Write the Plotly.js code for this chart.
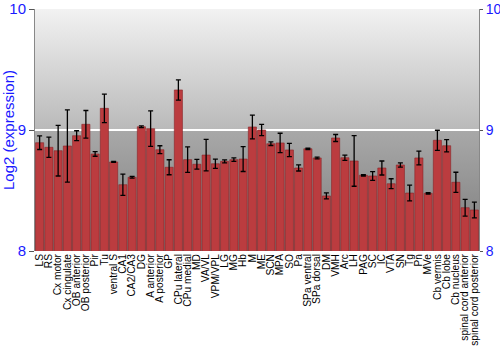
<!DOCTYPE html>
<html>
<head>
<meta charset="utf-8">
<script src="https://cdn.plot.ly/plotly-3.0.1.min.js"></script>
<style>html,body{margin:0;padding:0;background:#fff;}#chart{width:500px;height:350px;}</style>
</head>
<body>
<div id="chart"></div>
<script>
const regions = ["LS","RS","Cx motor","Cx cingulate","OB anterior","OB posterior","Pir","Tu","ventral S","CA1","CA2/CA3","DG","A anterior","A posterior","GP","CPu lateral","CPu medial","MD","VA/VL","VPM/VPL","LG","MG","Hb","M","ME","SCN","MPA","SO","Pa","SPa ventral","SPa dorsal","DM","VMH","Arc","LH","PAG","SC","IC","VTA","SN","Tg","Pn","MVe","Cb vermis","Cb lobe","Cb nucleus","spinal cord anterior","spinal cord posterior"];
const expression = [8.895,8.857,8.829,8.868,8.953,9.047,8.802,9.179,8.736,8.548,8.609,9.027,9.011,8.837,8.692,9.331,8.755,8.717,8.793,8.721,8.741,8.755,8.760,9.025,9.000,8.887,8.893,8.835,8.686,8.845,8.769,8.455,8.934,8.771,8.744,8.626,8.620,8.686,8.556,8.711,8.479,8.769,8.477,8.915,8.870,8.568,8.358,8.339];
const errors = [0.056,0.084,0.209,0.299,0.041,0.114,0.019,0.118,0.004,0.088,0.007,0.007,0.147,0.033,0.062,0.084,0.105,0.040,0.130,0.038,0.012,0.014,0.103,0.098,0.047,0.015,0.080,0.055,0.025,0.006,0.007,0.025,0.029,0.022,0.209,0.006,0.036,0.058,0.041,0.018,0.065,0.057,0.006,0.083,0.051,0.083,0.069,0.065];
const yTicks = [8, 9, 10];

const gradSvg = '<svg xmlns="http://www.w3.org/2000/svg" width="10" height="100" preserveAspectRatio="none"><defs><linearGradient id="g" x1="0" y1="0" x2="0" y2="1"><stop offset="0" stop-color="#f2f2f2"/><stop offset="0.5" stop-color="#b9b9b9"/><stop offset="0.505" stop-color="#a8a8a8"/><stop offset="1" stop-color="#7c7c7c"/></linearGradient></defs><rect width="10" height="100" fill="url(#g)"/></svg>';
const gradUri = 'data:image/svg+xml;charset=utf-8,' + encodeURIComponent(gradSvg);

const blue = '#1a1aff';
const traces = [
  {
    type: 'bar', x: regions, y: expression, yaxis: 'y2',
    marker: {color: '#bb3c3f', line: {color: '#8a2326', width: 0.6}},
    error_y: {type: 'data', array: errors, visible: true, color: '#000', thickness: 1.3, width: 2.5},
    hoverinfo: 'x+y'
  },
  {
    type: 'scatter', x: [regions[0]], y: [9], yaxis: 'y', mode: 'markers',
    marker: {opacity: 0, size: 1}, hoverinfo: 'skip', showlegend: false
  }
];

const layout = {
  width: 500, height: 350,
  margin: {l: 35, r: 21, t: 9, b: 99},
  paper_bgcolor: '#ffffff',
  plot_bgcolor: '#a8a8a8',
  showlegend: false,
  bargap: 0.12,
  font: {family: 'Liberation Sans, Arial, sans-serif'},
  images: [{source: gradUri, xref: 'paper', yref: 'paper', x: 0, y: 1, sizex: 1, sizey: 1,
            sizing: 'stretch', layer: 'below', xanchor: 'left', yanchor: 'top'}],
  xaxis: {
    type: 'category', tickmode: 'array', tickvals: regions, ticktext: regions,
    range: [-0.5, regions.length - 0.5], autorange: false,
    tickangle: -90, tickfont: {size: 10.2, color: '#000'},
    showgrid: false, showline: false, ticks: '', automargin: false
  },
  yaxis: {
    range: [8, 10], tickvals: yTicks, ticktext: yTicks.map(String),
    tickfont: {size: 15, color: blue}, ticks: 'outside', ticklen: 5, tickcolor: '#555',
    showline: true, linecolor: '#888', linewidth: 1,
    showgrid: true, gridcolor: '#ffffff', gridwidth: 1.5, zeroline: false,
    title: {text: 'Log2 (expression)', font: {size: 15, color: blue}, standoff: 4},
    automargin: false
  },
  yaxis2: {
    range: [8, 10], tickvals: yTicks, ticktext: yTicks.map(String), overlaying: 'y', side: 'right',
    tickfont: {size: 14, color: blue}, ticks: 'outside', ticklen: 3, tickcolor: '#555',
    showline: true, linecolor: '#888', linewidth: 1, showgrid: false, zeroline: false,
    automargin: false
  }
};

Plotly.newPlot('chart', traces, layout, {displayModeBar: false, staticPlot: true});
</script>
</body>
</html>
